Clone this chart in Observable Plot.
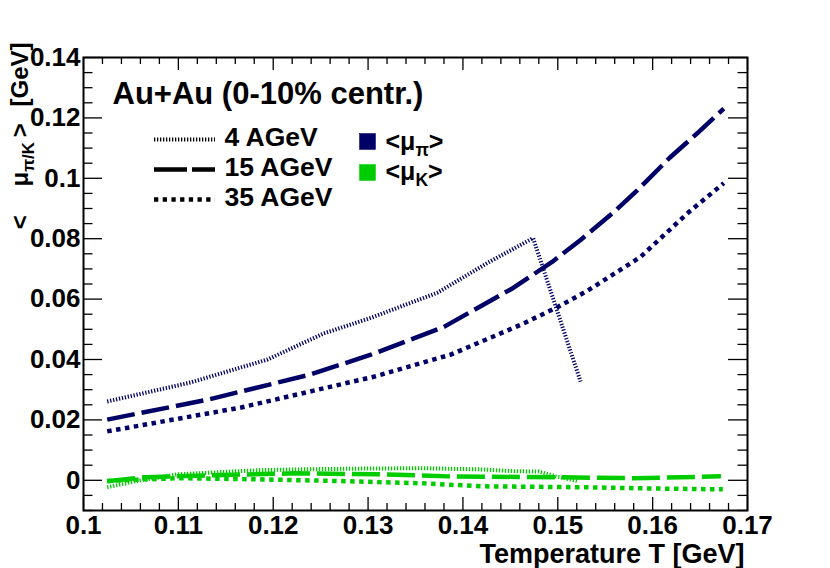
<!DOCTYPE html>
<html><head><meta charset="utf-8">
<script src="https://cdn.jsdelivr.net/npm/d3@7"></script>
<script src="https://cdn.jsdelivr.net/npm/@observablehq/plot@0.6"></script>
<style>
body{margin:0;background:#fff;}
#chart svg{display:block;}
</style></head><body><div id="chart"></div>
<script>
// ---------- data ----------
const pion4T  = [0.1025, 0.1113, 0.1194, 0.1253, 0.1303, 0.1373, 0.1426, 0.1474, 0.1524];
const pion4V  = [0.0261, 0.0324, 0.0400, 0.0486, 0.0538, 0.0621, 0.0720, 0.0802, 0.0327];
const pion15T = [0.1025, 0.1131, 0.1239, 0.1303, 0.1380, 0.1453, 0.1494, 0.1524, 0.1559, 0.1584, 0.1618, 0.1647, 0.1675];
const pion15V = [0.0201, 0.0267, 0.0350, 0.0416, 0.0508, 0.0637, 0.0723, 0.0796, 0.0888, 0.0961, 0.1068, 0.1149, 0.1231];
const pion35T = [0.1025, 0.1166, 0.1306, 0.1387, 0.1461, 0.1500, 0.1531, 0.1587, 0.1637, 0.1675];
const pion35V = [0.0162, 0.0241, 0.0343, 0.0416, 0.0515, 0.0574, 0.0627, 0.0739, 0.0885, 0.0984];
const kaon4T  = [0.1025, 0.1055, 0.1100, 0.1181, 0.1223, 0.1300, 0.1357, 0.1421, 0.1455, 0.1480, 0.1498, 0.1522];
const kaon4V  = [-0.0023, -0.0003, 0.0020, 0.0033, 0.0036, 0.0039, 0.0040, 0.0036, 0.0030, 0.0029, 0.0013, -0.0003];
const kaon15T = [0.1025, 0.1065, 0.1136, 0.1223, 0.1311, 0.1385, 0.1501, 0.1579, 0.1672];
const kaon15V = [-0.0003, 0.0010, 0.0017, 0.0023, 0.0020, 0.0013, 0.0010, 0.0007, 0.0013];
const kaon35T = [0.1025, 0.1100, 0.1189, 0.1276, 0.1357, 0.1421, 0.1526, 0.1596, 0.1674];
const kaon35V = [-0.0002, 0.0007, 0.0003, -0.0003, -0.0010, -0.0020, -0.0023, -0.0027, -0.0030];

const xTicks = [0.1, 0.11, 0.12, 0.13, 0.14, 0.15, 0.16, 0.17];
const yTicks = [0, 0.02, 0.04, 0.06, 0.08, 0.1, 0.12, 0.14];
const energies = ["4 AGeV", "15 AGeV", "35 AGeV"];
const speciesLabels = ["<μ_{π}>", "<μ_{K}>"];
const titleText = "Au+Au (0-10% centr.)";
const xTitle = "Temperature T [GeV]";
const yTitle = "<\u2003\u2009μ_{π/K}\u2009>\u2002\u2009[GeV]";

// ---------- styling ----------
const FONT = "'Liberation Sans', Arial, Helvetica, sans-serif";
const NAVY = "#000066", GREEN = "#00cc00";
const W = 830, H = 568, mL = 83, mR = 83, mT = 57, mB = 58;
const FW = W - mL - mR, FH = H - mT - mB;
const styles = [
  {strokeWidth: 4, strokeDasharray: "1.3 1.7"},
  {strokeWidth: 4.5, strokeDasharray: "28 7"},
  {strokeWidth: 4.5, strokeDasharray: "4.5 4.5"}
];
const legendStyles = [
  {strokeWidth: 4, strokeDasharray: "1.3 1.7"},
  {strokeWidth: 4.5, strokeDasharray: "33 5"},
  {strokeWidth: 4.5, strokeDasharray: "4.3 4.4"}
];

const curves = [
  {T: pion4T, V: pion4V, color: NAVY, s: 0},
  {T: pion15T, V: pion15V, color: NAVY, s: 1},
  {T: pion35T, V: pion35V, color: NAVY, s: 2},
  {T: kaon4T, V: kaon4V, color: GREEN, s: 0},
  {T: kaon15T, V: kaon15V, color: GREEN, s: 1},
  {T: kaon35T, V: kaon35V, color: GREEN, s: 2}
];

const xMinor = d3.range(0, 36).map(i => +(0.1 + i * 0.002).toFixed(4)).filter(v => Math.round(v * 1000) % 10 !== 0);
const yMinor = d3.range(0, 31).map(i => +(-0.01 + i * 0.005).toFixed(4)).filter(v => Math.round(v * 1000) % 20 !== 0);
const fmt = d => String(Math.round(d * 1000) / 1000);

const marks = [];
// curves
for (const c of curves) {
  const rows = c.T.map((t, i) => ({T: t, mu: c.V[i]}));
  marks.push(Plot.line(rows, {x: "T", y: "mu", stroke: c.color, strokeLinecap: "butt", strokeLinejoin: "miter", curve: "linear", ...styles[c.s]}));
}
// ticks (inward)
const tk = {stroke: "black", strokeWidth: 1.3};
marks.push(
  Plot.ruleY(yTicks, {y: d => d, insetRight: FW - 19, ...tk}),
  Plot.ruleY(yTicks, {y: d => d, insetLeft: FW - 19, ...tk}),
  Plot.ruleY(yMinor, {y: d => d, insetRight: FW - 9.5, ...tk}),
  Plot.ruleY(yMinor, {y: d => d, insetLeft: FW - 9.5, ...tk}),
  Plot.ruleX(xTicks, {x: d => d, insetTop: FH - 13, ...tk}),
  Plot.ruleX(xTicks, {x: d => d, insetBottom: FH - 13, ...tk}),
  Plot.ruleX(xMinor, {x: d => d, insetTop: FH - 7, ...tk}),
  Plot.ruleX(xMinor, {x: d => d, insetBottom: FH - 7, ...tk}),
  Plot.frame({stroke: "black", strokeWidth: 2}),
  Plot.axisX(xTicks, {tickSize: 0, tickPadding: 5, tickFormat: fmt, fontSize: 26, fontWeight: "bold", label: null}),
  Plot.axisY(yTicks, {tickSize: 0, tickPadding: 3, tickFormat: fmt, fontSize: 26, fontWeight: "bold", label: null}),
  Plot.text([xTitle], {frameAnchor: "bottom-right", textAnchor: "end", lineAnchor: "bottom", dx: -3, dy: 52, fontSize: 27, fontWeight: "bold"}),
  Plot.text([yTitle], {frameAnchor: "top-left", rotate: -90, textAnchor: "end", lineAnchor: "bottom", dx: -56, dy: -15, fontSize: 24, fontWeight: "bold"}),
  Plot.text([titleText], {frameAnchor: "top-left", textAnchor: "start", lineAnchor: "bottom", dx: 29, dy: 46, fontSize: 31, fontWeight: "bold"})
);
// legend: line samples + labels
energies.forEach((lab, i) => {
  marks.push(Plot.ruleY([0.14], {y: d => d, insetLeft: 71, insetRight: FW - 132, dy: 82 + i * 30, stroke: "black", strokeLinecap: "butt", ...legendStyles[i]}));
  marks.push(Plot.text([lab], {frameAnchor: "top-left", textAnchor: "start", lineAnchor: "bottom", dx: 141, dy: 88 + i * 30, fontSize: 26.5, fontWeight: "bold"}));
});
// legend: species squares + labels
[NAVY, GREEN].forEach((col, i) => {
  marks.push(Plot.frame({fill: col, stroke: col, strokeWidth: 0.5, insetLeft: 276, insetRight: FW - 292, insetTop: 76 + i * 31, insetBottom: FH - 92 - i * 31}));
  marks.push(Plot.text([speciesLabels[i]], {frameAnchor: "top-left", textAnchor: "start", lineAnchor: "bottom", dx: 302, dy: 92 + i * 30, fontSize: 25, fontWeight: "bold"}));
});

const svg = Plot.plot({
  width: W, height: H,
  marginLeft: mL, marginRight: mR, marginTop: mT, marginBottom: mB,
  x: {domain: [0.1, 0.17]},
  y: {domain: [-0.01, 0.14]},
  style: {fontFamily: FONT, background: "white", color: "black", overflow: "visible"},
  marks
});

// subscripts: turn a_{b}c into tspans
d3.select(svg).selectAll("text").each(function () {
  const t = this.textContent;
  if (!t.includes("_{")) return;
  let base = 26;
  let n = this;
  while (n && n.getAttribute) { const f = n.getAttribute("font-size"); if (f) { base = parseFloat(f); break; } n = n.parentNode; }
  const sub = Math.round(base * 0.7 * 10) / 10, shift = Math.round(base * 0.25 * 10) / 10;
  const sel = d3.select(this);
  this.textContent = "";
  const parts = t.split(/(_\{[^}]*\})/).filter(p => p.length);
  let down = false;
  for (const p of parts) {
    if (p.startsWith("_{")) {
      sel.append("tspan").attr("font-size", sub).attr("dy", shift).text(p.slice(2, -1));
      down = true;
    } else {
      const ts = sel.append("tspan").text(p);
      if (down) { ts.attr("dy", -shift); down = false; }
    }
  }
});

document.getElementById("chart").appendChild(svg);
</script></body></html>
